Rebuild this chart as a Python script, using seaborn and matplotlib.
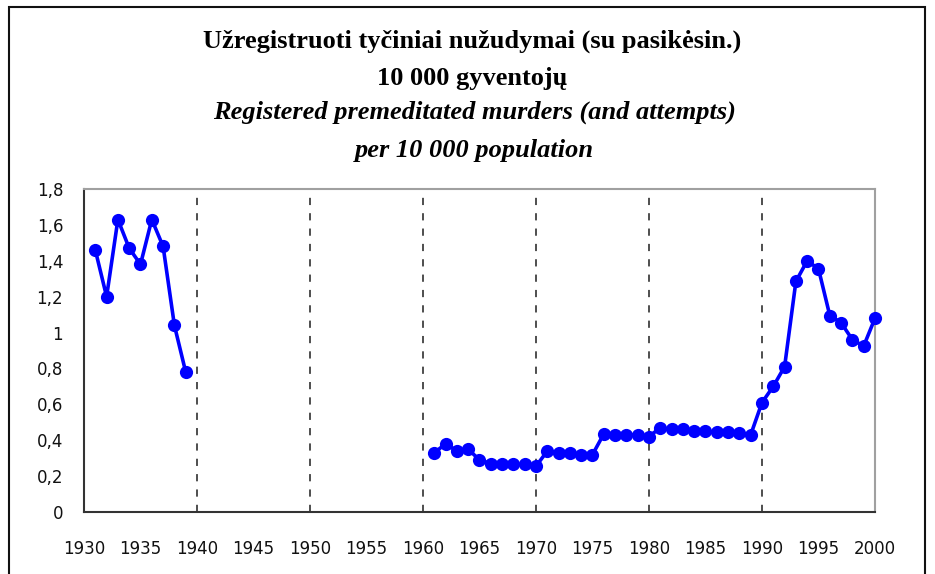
import numpy as np
import pandas as pd
import seaborn as sns
import matplotlib.pyplot as plt
from matplotlib.patches import Rectangle

# registered premeditated murders (and attempts) per 10 000 population
years_pre = [1931, 1932, 1933, 1934, 1935, 1936, 1937, 1938, 1939]
rate_pre = [1.46, 1.20, 1.63, 1.47, 1.38, 1.63, 1.48, 1.04, 0.78]

years_post = list(range(1961, 2001))
rate_post = [0.33, 0.38, 0.34, 0.35, 0.29, 0.27, 0.265, 0.265, 0.265, 0.255,
             0.34, 0.33, 0.33, 0.32, 0.32, 0.435, 0.43, 0.43, 0.43, 0.42,
             0.47, 0.46, 0.46, 0.45, 0.45, 0.445, 0.445, 0.44, 0.43, 0.61,
             0.70, 0.81, 1.285, 1.40, 1.355, 1.095, 1.055, 0.96, 0.925, 1.08]

y_ticks = [0, 0.2, 0.4, 0.6, 0.8, 1.0, 1.2, 1.4, 1.6, 1.8]
y_labels = ['0', '0,2', '0,4', '0,6', '0,8', '1', '1,2', '1,4', '1,6', '1,8']
decades = [1940, 1950, 1960, 1970, 1980, 1990]

title_lt = ['Užregistruoti tyčiniai nužudymai (su pasikėsin.)', '10 000 gyventojų']
title_en = ['Registered premeditated murders (and attempts)', 'per 10 000 population']

df = pd.DataFrame({
    'year': years_pre + years_post,
    'rate': rate_pre + rate_post,
    'segment': ['pre'] * len(years_pre) + ['post'] * len(years_post),
})

sns.set_style('white')
plt.rcParams['font.family'] = ['DejaVu Sans']

fig = plt.figure(figsize=(9.35, 5.74), dpi=100)
ax = fig.add_axes([84 / 935, 62 / 574, 791 / 935, 323 / 574])

for d in decades:
    ax.axvline(d, color='#404040', lw=1.3, ls=(0, (4, 4.5)), zorder=1)

sns.lineplot(data=df, x='year', y='rate', hue='segment', estimator=None,
             palette=['#0000ff', '#0000ff'], marker='o', markersize=9.5,
             markeredgewidth=0, linewidth=2.6, legend=False, ax=ax, zorder=3)
for ln in ax.get_lines():
    ln.set_clip_on(False)

ax.set_xlim(1930, 2000)
ax.set_ylim(0, 1.8)
ax.set_xlabel('')
ax.set_ylabel('')

ax.set_xticks(list(range(1930, 2001, 10)))
ax.set_xticklabels([str(y) for y in range(1930, 2001, 10)])
ax.set_xticks(list(range(1935, 2000, 10)), minor=True)
ax.set_xticklabels([str(y) for y in range(1935, 2000, 10)], minor=True)
ax.set_yticks(y_ticks)
ax.set_yticklabels(y_labels)

ax.tick_params(axis='x', which='major', direction='out', length=6, width=1.3,
               color='#333333', pad=14, labelsize=12, labelcolor='#111111')
ax.tick_params(axis='x', which='minor', length=0, pad=20, labelsize=12,
               labelcolor='#111111')
ax.tick_params(axis='y', direction='out', length=6, width=1.3,
               color='#333333', pad=9, labelsize=12, labelcolor='#111111')

for side in ['left', 'bottom']:
    ax.spines[side].set_color('#333333')
    ax.spines[side].set_linewidth(1.5)
for side in ['top', 'right']:
    ax.spines[side].set_color('#a0a0a0')
    ax.spines[side].set_linewidth(1.5)

# titles, placed on their baselines
title_kw = dict(ha='center', va='baseline', family='Liberation Serif',
                fontweight='bold', fontsize=19, color='black')
fig.text(472 / 935, 1 - 48 / 574, title_lt[0], **title_kw)
fig.text(472 / 935, 1 - 85 / 574, title_lt[1], **title_kw)
fig.text(474 / 935, 1 - 119 / 574, title_en[0], style='italic', **title_kw)
fig.text(474 / 935, 1 - 157 / 574, title_en[1], style='italic', **title_kw)

# outer chart frame (bottom edge falls outside the picture)
fig.patches.append(Rectangle((9 / 935, -0.05), 916 / 935, 1.05 - 7 / 574,
                             transform=fig.transFigure, fill=False,
                             edgecolor='#111111', linewidth=1.5))

fig.savefig('out.png', dpi=100)
